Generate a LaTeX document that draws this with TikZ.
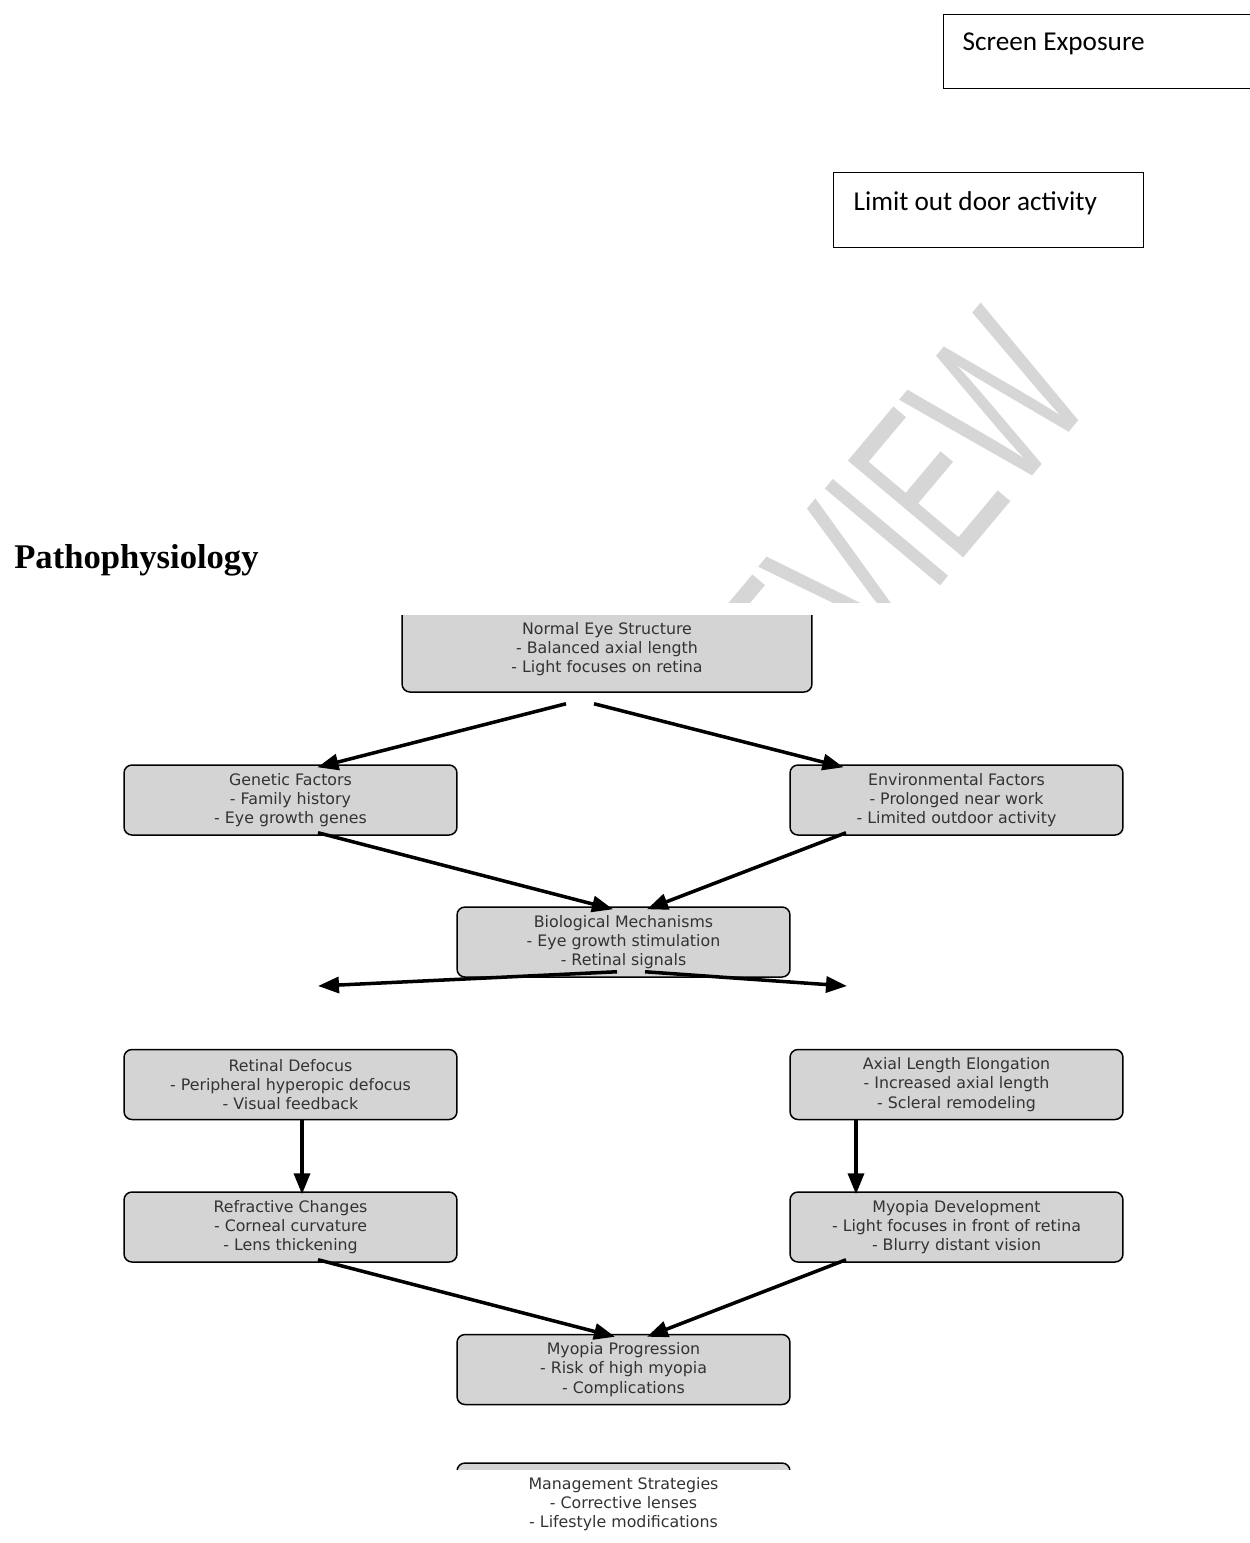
\documentclass[tikz,border=0pt]{standalone}
\usepackage{fontspec}
\newfontfamily\boxfont{DejaVu Sans}
\newfontfamily\notefont{Carlito}
\newfontfamily\headfont{Liberation Serif}
\newfontfamily\markfont{Liberation Sans}
\usetikzlibrary{arrows.meta}

\begin{document}
\begin{tikzpicture}[x=0.02cm,y=-0.02cm]
  \useasboundingbox (0,0) rectangle (1249,1543);

  \tikzstyle{flowbox}=[draw=black, line width=0.85pt, fill=black!17, rounded corners=4.5pt,
    minimum width=6.66cm, minimum height=1.4cm, inner sep=0pt, align=center,
    text=black!80, font=\boxfont\fontsize{9}{11}\selectfont]
  \tikzstyle{flowarrow}=[-{Triangle[length=0.42cm,width=0.32cm]}, line width=2pt]
  \tikzstyle{notebox}=[draw=black, line width=0.7pt, anchor=north west, align=flush left,
    inner ysep=0pt, font=\notefont\fontsize{15.5}{18}\selectfont]

  % watermark behind the picture (only its upper part shows)
  \begin{scope}
    \clip (0,0) rectangle (1249,602);
    \node[anchor=base east, rotate=50, xscale=0.62, inner sep=0pt, text=black!16,
      font=\markfont\fontsize{124.6}{130}\selectfont] (wmark) at (1097,399) {EVIEW};
  \end{scope}

  % notes at the top
  \node[notebox, inner xsep=0.38cm, text width=5.54cm, text height=0.72cm, text depth=0.76cm]
    (screen) at (943,14) {Screen Exposure};
  \node[notebox, inner xsep=0.4cm, text width=5.4cm, text height=0.76cm, text depth=0.74cm]
    (limit) at (833,172) {Limit out door activity};

  % heading
  \node[anchor=base west, inner sep=0pt, font=\headfont\bfseries\fontsize{19.7}{22}\selectfont]
    (title) at (14,568) {Pathophysiology};

  % first row, cut at the top
  \begin{scope}
    \clip (380,615) rectangle (840,700);
    \node[flowbox, minimum width=8.2cm, minimum height=1.72cm] (norm) at (607,649)
      {Normal Eye Structure\\- Balanced axial length\\- Light focuses on retina};
  \end{scope}

  % factors
  \node[flowbox] (gen) at (290.5,800) {Genetic Factors\\- Family history\\- Eye growth genes};
  \node[flowbox] (env) at (956.5,800) {Environmental Factors\\- Prolonged near work\\- Limited outdoor activity};

  % mechanisms
  \node[flowbox] (bio) at (623.5,942) {Biological Mechanisms\\- Eye growth stimulation\\- Retinal signals};

  % two branches
  \node[flowbox] (ret) at (290.5,1084.5) {Retinal Defocus\\- Peripheral hyperopic defocus\\- Visual feedback};
  \node[flowbox] (axl) at (956.5,1084.5) {Axial Length Elongation\\- Increased axial length\\- Scleral remodeling};
  \node[flowbox] (refr) at (290.5,1227) {Refractive Changes\\- Corneal curvature\\- Lens thickening};
  \node[flowbox] (mdev) at (956.5,1227) {Myopia Development\\- Light focuses in front of retina\\- Blurry distant vision};

  % outcome
  \node[flowbox] (prog) at (623.5,1369.5) {Myopia Progression\\- Risk of high myopia\\- Complications};

  % last box, only its top edge shows
  \begin{scope}
    \clip (440,1455) rectangle (800,1469);
    \node[flowbox] (mgmtbox) at (623.5,1498) {};
  \end{scope}
  \node[flowbox, draw=none, fill=none] (mgmt) at (623.5,1504)
    {Management Strategies\\- Corrective lenses\\- Lifestyle modifications};

  % loose ends of the two arrows below the mechanisms
  \coordinate (bioL) at (318,986);
  \coordinate (bioR) at (847,986);

  % arrows
  \draw[flowarrow] ([shift={(-41,11)}]norm.south) -- ([shift={(27,3)}]gen.north);
  \draw[flowarrow] ([shift={(-13,11)}]norm.south) -- ([shift={(-113,3)}]env.north);
  \draw[flowarrow] ([shift={(27.5,-3)}]gen.south) -- ([shift={(-10.5,3)}]bio.north);
  \draw[flowarrow] ([shift={(-110.5,-3)}]env.south) -- ([shift={(23.5,3)}]bio.north);
  \draw[flowarrow] ([shift={(-6.5,-6)}]bio.south) -- (bioL);
  \draw[flowarrow] ([shift={(21.5,-6)}]bio.south) -- (bioR);
  \draw[flowarrow] ([shift={(11.5,0)}]ret.south) -- ([shift={(11.5,3)}]refr.north);
  \draw[flowarrow] ([shift={(-100.5,0)}]axl.south) -- ([shift={(-100.5,3)}]mdev.north);
  \draw[flowarrow] ([shift={(27.5,-3)}]refr.south) -- ([shift={(-8.5,3)}]prog.north);
  \draw[flowarrow] ([shift={(-110.5,-3)}]mdev.south) -- ([shift={(23.5,3)}]prog.north);

\end{tikzpicture}
\end{document}
